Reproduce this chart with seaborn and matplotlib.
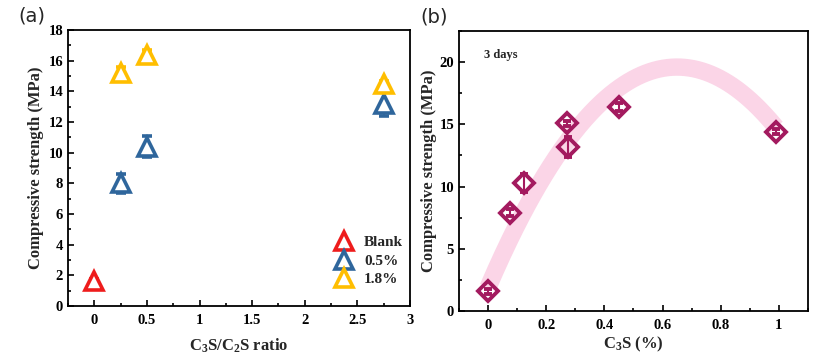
import numpy as np
import pandas as pd
import matplotlib
matplotlib.use("Agg")
import matplotlib.pyplot as plt
import seaborn as sns
from matplotlib.ticker import MultipleLocator, AutoMinorLocator
from matplotlib.lines import Line2D

# ---- data (a) ----
blank_x = [0.0]
blank_y = [1.6]
blank_err = [0.15]
p05_x = [0.25, 0.5, 2.75]
p05_y = [8.0, 10.4, 13.2]
p05_err = [0.6, 0.7, 0.8]
p18_x = [0.25, 0.5, 2.75]
p18_y = [15.2, 16.4, 14.5]
p18_err = [0.4, 0.3, 0.2]
legend_labels = ['Blank', '0.5%', '1.8%']

# ---- data (b) ----
c3s_x = [0.0, 0.075, 0.125, 0.27, 0.275, 0.45, 0.99]
c3s_y = [1.6, 7.9, 10.3, 15.1, 13.2, 16.4, 14.4]
c3s_err = [0.2, 0.3, 0.7, 0.2, 0.8, 0.3, 0.2]
# quadratic fit: y = a + b x + c x^2
fit_coef = [1.90, 54.47, -41.9]
fit_range = [0.0, 0.99]

sns.set_theme(style="ticks")
plt.rcParams['font.family'] = ['Liberation Serif', 'DejaVu Serif']
plt.rcParams['font.weight'] = 'bold'
plt.rcParams['mathtext.fontset'] = 'custom'
plt.rcParams['mathtext.rm'] = 'Liberation Serif:bold'
plt.rcParams['mathtext.it'] = 'Liberation Serif:bold:italic'
plt.rcParams['mathtext.bf'] = 'Liberation Serif:bold'

fig = plt.figure(figsize=(8.28, 3.61), dpi=100)
ax1 = fig.add_axes([0.0821, 0.1524, 0.413, 0.7645])
ax2 = fig.add_axes([0.5543, 0.1385, 0.4215, 0.7756])

red = '#ee1c1c'
blue = '#2f669c'
yellow = '#ffbe00'
mag = '#a31a5f'
pink = '#fbd5e7'

def tri(ax, x, y, e, c):
    ax.errorbar(x, y, yerr=e, fmt='^', ms=12.5, mfc='white', mec=c, mew=2.6,
                ecolor=c, elinewidth=1.5, capsize=3.5, capthick=1.5, zorder=3)

tri(ax1, blank_x, blank_y, blank_err, red)
tri(ax1, p05_x, p05_y, p05_err, blue)
tri(ax1, p18_x, p18_y, p18_err, yellow)

ax1.set_xlim(-0.25, 3)
ax1.set_ylim(0, 18)
ax1.yaxis.set_major_locator(MultipleLocator(2))
ax1.set_xticks([0, 0.5, 1, 1.5, 2, 2.5, 3])
ax1.set_xticklabels(['0', '0.5', '1', '1.5', '2', '2.5', '3'])
ax1.set_xlabel('C$_3$S/C$_2$S ratio', fontsize=12, fontweight='bold', labelpad=7)
ax1.set_ylabel('Compressive strength (MPa)', fontsize=12, fontweight='bold', labelpad=3)
handles = [Line2D([], [], ls='none', marker='^', ms=12.5, mfc='white', mec=c, mew=2.6)
           for c in (red, blue, yellow)]
ax1.legend(handles, legend_labels, loc='lower right', frameon=False, fontsize=11,
           handletextpad=0.5, labelspacing=0.32, handlelength=1.6,
           bbox_to_anchor=(1.02, 0.021))

# ---- (b) ----
xs = np.linspace(fit_range[0], fit_range[1], 200)
dfit = pd.DataFrame({'x': xs, 'y': np.polyval(fit_coef[::-1], xs)})
sns.lineplot(data=dfit, x='x', y='y', ax=ax2, color=pink, lw=12.5,
             solid_capstyle='butt', zorder=1)
ax2.errorbar(c3s_x, c3s_y, yerr=c3s_err, fmt='D', ms=10.5, mfc='none', mec=mag, mew=2.8,
             ecolor=mag, elinewidth=1.5, capsize=3, capthick=1.5, zorder=3)
ax2.set_xlim(-0.1, 1.1)
ax2.set_ylim(0, 22.5)
ax2.set_xticks([0, 0.2, 0.4, 0.6, 0.8, 1.0])
ax2.set_xticklabels(['0', '0.2', '0.4', '0.6', '0.8', '1'])
ax2.yaxis.set_major_locator(MultipleLocator(5))
ax2.set_xlabel('C$_3$S (%)', fontsize=12, fontweight='bold', labelpad=2)
ax2.set_ylabel('Compressive strength (MPa)', fontsize=12, fontweight='bold', labelpad=2)
ax2.text(0.073, 0.905, '3 days', transform=ax2.transAxes, fontsize=9, fontweight='bold')

for ax in (ax1, ax2):
    ax.xaxis.set_minor_locator(AutoMinorLocator(2))
    ax.yaxis.set_minor_locator(AutoMinorLocator(2))
    ax.tick_params(which='both', direction='in', top=False, right=False,
                   labelsize=10.5, width=1.2, colors='black')
    ax.tick_params(which='major', length=4)
    ax.tick_params(which='minor', length=2.5)
    for s in ax.spines.values():
        s.set_linewidth(1.3)
        s.set_color('black')
    for t in ax.get_xticklabels() + ax.get_yticklabels():
        t.set_fontweight('bold')
    ax.tick_params(axis='x', pad=6)

fig.text(18/828, 1 - 16/361, '(a)', fontsize=14, family='DejaVu Sans',
         fontweight='normal', va='center', ha='left')
fig.text(420/828, 1 - 17/361, '(b)', fontsize=14, family='DejaVu Sans',
         fontweight='normal', va='center', ha='left')

fig.savefig('out.png', dpi=100)
